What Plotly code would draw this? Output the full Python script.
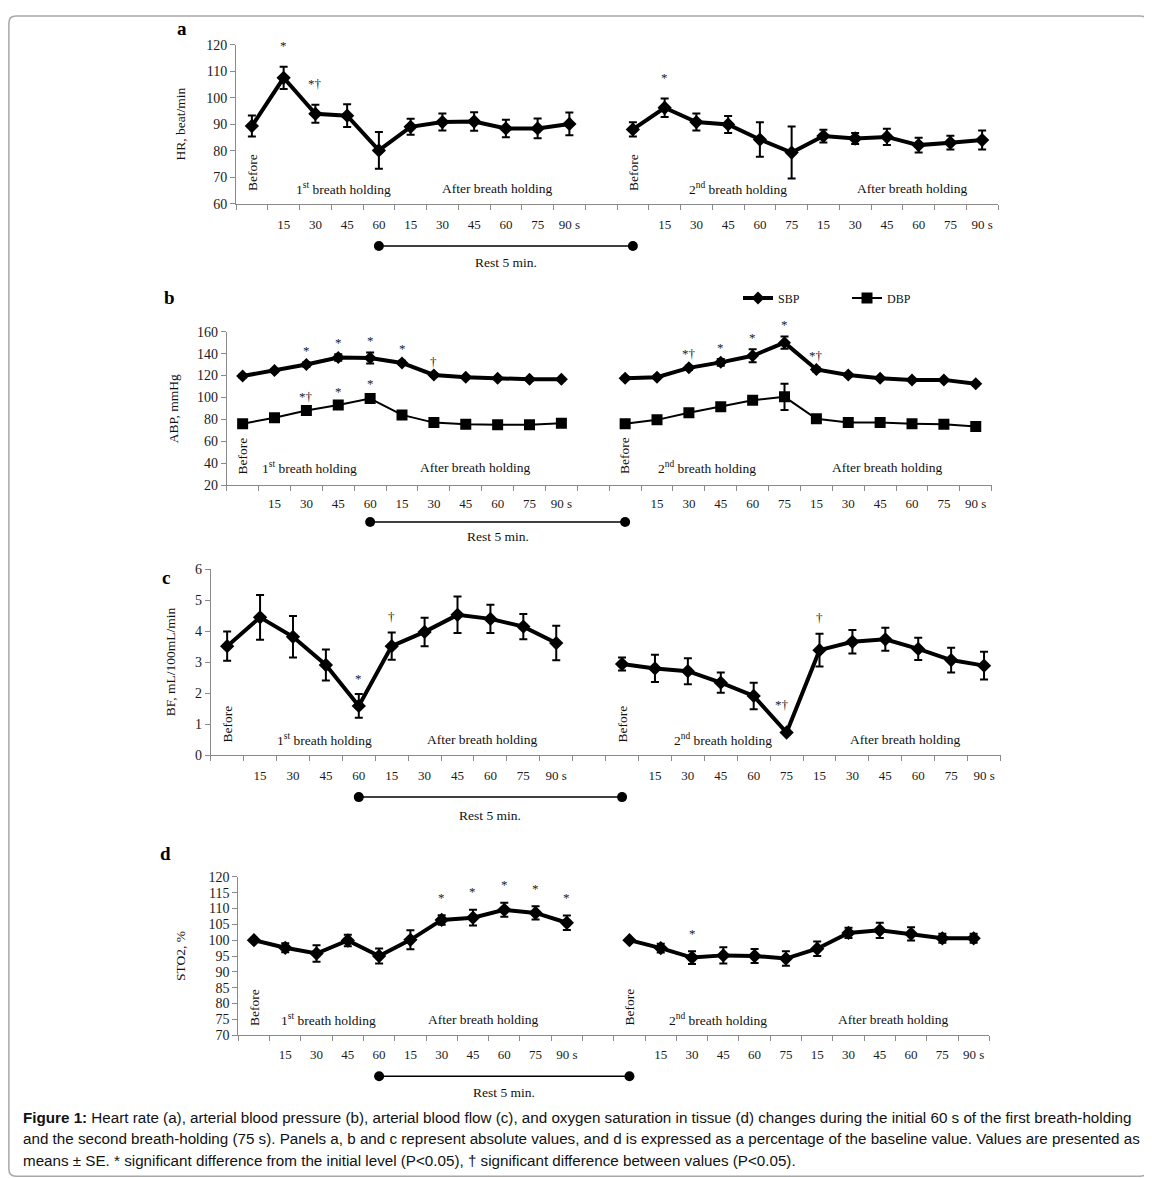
import plotly.graph_objects as go

# The page body keeps its default 8px margin; the photographed page is also
# slightly compressed vertically, so reference pixels are mapped accordingly.
W, H = 1144, 1178
OFF = 8
SY, BY = 0.987, 7.2
SERIF = "Liberation Serif, Times New Roman, serif"

# ---------------- data ----------------
first_labels = ["Before", "15", "30", "45", "60", "15", "30", "45", "60", "75", "90 s"]
second_labels = ["Before", "15", "30", "45", "60", "75", "15", "30", "45", "60", "75", "90 s"]

# a: heart rate
hr_first = [89.4, 107.6, 94.0, 93.3, 80.2, 89.1, 90.9, 91.1, 88.5, 88.5, 90.2]
hr_first_se = [4.0, 4.2, 3.4, 4.3, 6.9, 3.0, 3.2, 3.5, 3.3, 3.7, 4.3]
hr_second = [88.1, 96.3, 90.9, 90.0, 84.3, 79.4, 85.6, 84.7, 85.3, 82.2, 83.1, 84.1]
hr_second_se = [2.7, 3.5, 3.2, 3.2, 6.5, 9.8, 2.4, 2.1, 3.1, 2.8, 2.6, 3.6]
hr_first_sig = ["", "*", "*†", "", "", "", "", "", "", "", ""]
hr_second_sig = ["", "*", "", "", "", "", "", "", "", "", "", ""]

# b: arterial blood pressure
sbp_first = [119.5, 124.5, 130.0, 136.5, 136.0, 131.5, 120.5, 118.5, 117.5, 116.5, 116.5]
sbp_first_se = [1.5, 1.5, 2.0, 3.0, 5.0, 2.0, 1.5, 1.0, 1.0, 1.0, 1.0]
sbp_second = [117.5, 118.5, 127.0, 132.0, 138.0, 150.0, 125.5, 120.5, 117.5, 116.0, 116.0, 112.5]
sbp_second_se = [1.5, 1.5, 2.0, 3.0, 6.0, 5.5, 2.0, 1.5, 1.0, 1.0, 1.0, 1.5]
dbp_first = [76.0, 81.5, 88.0, 93.0, 99.0, 84.0, 77.0, 75.5, 75.0, 75.0, 76.5]
dbp_first_se = [1.0, 1.0, 1.5, 1.5, 3.0, 1.5, 1.0, 1.0, 1.0, 1.0, 1.0]
dbp_second = [76.0, 79.5, 86.0, 91.5, 97.5, 100.5, 80.5, 77.0, 77.0, 76.0, 75.5, 73.5]
dbp_second_se = [1.0, 1.0, 1.5, 1.5, 2.0, 12.0, 1.5, 1.0, 1.0, 1.0, 1.0, 1.0]
sbp_first_sig = ["", "", "*", "*", "*", "*", "†", "", "", "", ""]
sbp_second_sig = ["", "", "*†", "*", "*", "*", "*†", "", "", "", "", ""]
dbp_first_sig = ["", "", "*†", "*", "*", "", "", "", "", "", ""]
dbp_second_sig = ["", "", "", "", "", "", "", "", "", "", "", ""]

# c: blood flow
bf_first = [3.52, 4.45, 3.82, 2.91, 1.59, 3.52, 3.98, 4.53, 4.40, 4.15, 3.62]
bf_first_se = [0.47, 0.72, 0.67, 0.50, 0.38, 0.44, 0.46, 0.59, 0.46, 0.41, 0.56]
bf_second = [2.94, 2.80, 2.71, 2.34, 1.91, 0.73, 3.39, 3.66, 3.74, 3.43, 3.07, 2.89]
bf_second_se = [0.21, 0.44, 0.42, 0.33, 0.43, 0.05, 0.53, 0.38, 0.37, 0.36, 0.40, 0.45]
bf_first_sig = ["", "", "", "", "*", "†", "", "", "", "", ""]
bf_second_sig = ["", "", "", "", "", "*†", "†", "", "", "", "", ""]

# d: tissue oxygen saturation (% of baseline)
st_first = [100.0, 97.6, 95.8, 99.9, 95.0, 100.1, 106.4, 107.1, 109.6, 108.6, 105.5]
st_first_se = [0.0, 1.4, 2.6, 1.8, 2.4, 3.0, 1.5, 2.5, 2.2, 2.1, 2.3]
st_second = [100.0, 97.5, 94.5, 95.2, 95.0, 94.2, 97.3, 102.3, 103.1, 102.0, 100.6, 100.6]
st_second_se = [0.0, 1.4, 2.0, 2.6, 2.2, 2.3, 2.3, 1.6, 2.4, 2.1, 1.4, 1.4]
st_first_sig = ["", "", "", "", "", "", "*", "*", "*", "*", "*"]
st_second_sig = ["", "", "*", "", "", "", "", "", "", "", "", ""]

# ---------------- category positions ----------------
n1, n2 = len(first_labels), len(second_labels)
ncat = n1 + 1 + n2  # one empty category between the two runs
x_first = [i + 0.5 for i in range(n1)]
x_second = [n1 + 1 + i + 0.5 for i in range(n2)]
centers = x_first + [n1 + 0.5] + x_second
ticktext = [""] + first_labels[1:] + [""] + [""] + second_labels[1:]

fig = go.Figure()


def px_x(p):
    return (p - OFF) / W


def px_y(p):
    return 1 - ((p - BY) / SY - OFF) / H


# panel geometry in reference pixels: x0, x1, ytop, ybottom
panels = {
    1: dict(box=(236, 998, 45, 204), yr=(60, 120), dt=10, title="HR, beat/min", tx=180, letter="a", lxy=(182, 29),
            tick_y=221, rest_y=246, rest_t=263, before_y=0.2, lab_y=0.10,
            lab_x=(3.37, 8.22, 15.8, 21.3), sig_off=24),
    2: dict(box=(226.7, 991.7, 331.7, 485), yr=(20, 160), dt=20, title="ABP, mmHg", tx=173, letter="b", lxy=(169, 298),
            tick_y=500, rest_y=522, rest_t=536, before_y=0.19, lab_y=0.113,
            lab_x=(2.61, 7.78, 15.06, 20.73), sig_off=15),
    3: dict(box=(210.7, 1000.5, 569.3, 755), yr=(0, 6), dt=1, title="BF, mL/100mL/min", tx=170, letter="c", lxy=(166, 577),
            tick_y=772, rest_y=797, rest_t=815, before_y=0.165, lab_y=0.085,
            lab_x=(3.47, 8.24, 15.57, 21.1), sig_off=19),
    4: dict(box=(238.3, 989.3, 876.7, 1035), yr=(70, 120), dt=5, title="STO2, %", tx=180, letter="d", lxy=(165, 853),
            tick_y=1051.7, rest_y=1076, rest_t=1092, before_y=0.177, lab_y=0.10,
            lab_x=(2.87, 7.82, 15.33, 20.91), sig_off=21),
}

series = {
    1: [("HR", hr_first, hr_first_se, hr_second, hr_second_se, hr_first_sig, hr_second_sig, "diamond", 4, 11, False)],
    2: [("SBP", sbp_first, sbp_first_se, sbp_second, sbp_second_se, sbp_first_sig, sbp_second_sig, "diamond", 4, 10, True),
        ("DBP", dbp_first, dbp_first_se, dbp_second, dbp_second_se, dbp_first_sig, dbp_second_sig, "square", 2, 11, True)],
    3: [("BF", bf_first, bf_first_se, bf_second, bf_second_se, bf_first_sig, bf_second_sig, "diamond", 4, 11, False)],
    4: [("STO2", st_first, st_first_se, st_second, st_second_se, st_first_sig, st_second_sig, "diamond", 4, 11, False)],
}

# special offsets for crowded significance labels: (panel, run, index) -> (xshift, extra yshift)
sig_adjust = {(3, 2, 5): (-5, 10)}

annotations = []
shapes = []
layout_axes = {}

for k, p in panels.items():
    xa = "x" if k == 1 else f"x{k}"
    ya = "y" if k == 1 else f"y{k}"
    x0, x1, yt, yb = p["box"]
    layout_axes["xaxis" if k == 1 else f"xaxis{k}"] = dict(
        domain=[px_x(x0), px_x(x1)], range=[0, ncat], anchor=ya,
        showline=True, linecolor="#8a8a8a", linewidth=1, showgrid=False, zeroline=False,
        tickmode="array", tickvals=centers, ticktext=ticktext,
        ticks="outside", ticklen=int(p["tick_y"] - yb - 9), tickcolor="rgba(0,0,0,0)",
        tickfont=dict(family=SERIF, size=13, color="#1a1a1a"),
        minor=dict(tick0=0, dtick=1, ticks="outside", ticklen=5, tickcolor="#8a8a8a", showgrid=False),
    )
    layout_axes["yaxis" if k == 1 else f"yaxis{k}"] = dict(
        domain=[px_y(yb), px_y(yt)], range=list(p["yr"]), dtick=p["dt"], anchor=xa,
        showline=True, linecolor="#8a8a8a", linewidth=1, showgrid=False, zeroline=False,
        ticks="outside", ticklen=5, tickcolor="#8a8a8a",
        tickfont=dict(family=SERIF, size=14, color="#1a1a1a"),
    )

    for (name, f, fse, s, sse, fsig, ssig, sym, lw, ms, leg) in series[k]:
        xs = x_first + [None] + x_second
        ys = f + [None] + s
        es = fse + [0] + sse
        fig.add_trace(go.Scatter(
            x=xs, y=ys, mode="lines+markers", name=name, showlegend=leg,
            xaxis=xa, yaxis=ya, connectgaps=False,
            line=dict(color="black", width=lw),
            marker=dict(symbol=sym, size=ms, color="black"),
            error_y=dict(type="data", array=es, visible=True, color="black", thickness=2, width=4),
        ))
        for run, (xv, vals, ses, sigs) in enumerate([(x_first, f, fse, fsig), (x_second, s, sse, ssig)], start=1):
            for i, sg in enumerate(sigs):
                if not sg:
                    continue
                dx, dy = sig_adjust.get((k, run, i), (0, 0))
                annotations.append(dict(
                    x=xv[i], y=vals[i] + ses[i], xref=xa, yref=ya, text=sg, showarrow=False,
                    xanchor="center", yanchor="middle", xshift=dx, yshift=p["sig_off"] + dy - 3,
                    font=dict(family=SERIF, size=13, color="#222222"),
                ))

    # phase labels inside the plot
    ydom = ya + " domain"
    for xv in (x_first[0], x_second[0]):
        annotations.append(dict(x=xv, y=p["before_y"], xref=xa, yref=ydom, text="Before", textangle=-90,
                                showarrow=False, xanchor="center", yanchor="middle",
                                font=dict(family=SERIF, size=13.5, color="#111")))
    lx = p["lab_x"]
    for xv, txt in [(lx[0], "1<sup>st</sup> breath holding"), (lx[1], "After breath holding"),
                    (lx[2], "2<sup>nd</sup> breath holding"), (lx[3], "After breath holding")]:
        annotations.append(dict(x=xv, y=p["lab_y"], xref=xa, yref=ydom, text=txt, showarrow=False,
                                xanchor="center", yanchor="middle",
                                font=dict(family=SERIF, size=13.5, color="#111")))

    # axis title and panel letter
    annotations.append(dict(x=px_x(p["tx"]), y=px_y((yt + yb) / 2), xref="paper", yref="paper",
                            text=p["title"], textangle=-90, showarrow=False, xanchor="center", yanchor="middle",
                            font=dict(family=SERIF, size=13.5, color="#111")))
    annotations.append(dict(x=px_x(p["lxy"][0]), y=px_y(p["lxy"][1]), xref="paper", yref="paper",
                            text="<b>" + p["letter"] + "</b>", showarrow=False, xanchor="center", yanchor="middle",
                            font=dict(family=SERIF, size=19, color="black")))

    # rest period bar: from end of first holding (60 s) to start of second trial
    rx0, rx1 = x_first[4], x_second[0]
    ry = px_y(p["rest_y"])
    shapes.append(dict(type="line", xref=xa, yref="paper", x0=rx0, x1=rx1, y0=ry, y1=ry,
                       line=dict(color="black", width=1.5)))
    for cx in (rx0, rx1):
        shapes.append(dict(type="circle", xref=xa, yref="paper", xsizemode="pixel", ysizemode="pixel",
                           xanchor=cx, yanchor=ry, x0=-5, x1=5, y0=-5, y1=5,
                           fillcolor="black", line=dict(color="black", width=0)))
    annotations.append(dict(x=(rx0 + rx1) / 2, y=px_y(p["rest_t"]), xref=xa, yref="paper",
                            text="Rest 5 min.", showarrow=False, xanchor="center", yanchor="middle",
                            font=dict(family=SERIF, size=13.5, color="#111")))

# caption
cap_font = dict(family="Liberation Sans, Arial, sans-serif", size=15.2, color="#111")
caption = [
    "<b>Figure 1:</b> Heart rate (a), arterial blood pressure (b), arterial blood flow (c), and oxygen saturation in tissue (d) changes during the initial 60 s of the first breath-holding",
    "and the second breath-holding (75 s). Panels a, b and c represent absolute values, and d is expressed as a percentage of the baseline value. Values are presented as",
    "means ± SE. * significant difference from the initial level (P<0.05), † significant difference between values (P<0.05).",
]
for i, line in enumerate(caption):
    annotations.append(dict(x=px_x(21), y=px_y(1117 + 21.5 * i), xref="paper", yref="paper", text=line,
                            showarrow=False, xanchor="left", yanchor="middle", font=cap_font))

# rounded outer frame (reference 5..1147 x 3..1176, clamped inside the figure)
l, r, t, b, rad = 0.9, 1147 - OFF, 0.9, (1176 - BY) / SY - OFF, 7
fx = lambda v: v / W
fy = lambda v: 1 - v / H
path = (f"M {fx(l + rad)} {fy(t)} L {fx(r - rad)} {fy(t)} Q {fx(r)} {fy(t)} {fx(r)} {fy(t + rad)} "
        f"L {fx(r)} {fy(b - rad)} Q {fx(r)} {fy(b)} {fx(r - rad)} {fy(b)} "
        f"L {fx(l + rad)} {fy(b)} Q {fx(l)} {fy(b)} {fx(l)} {fy(b - rad)} "
        f"L {fx(l)} {fy(t + rad)} Q {fx(l)} {fy(t)} {fx(l + rad)} {fy(t)} Z")
shapes.append(dict(type="path", xref="paper", yref="paper", path=path, line=dict(color="#a8a8a8", width=1.5)))

fig.update_layout(
    width=W, height=H, margin=dict(l=0, r=0, t=0, b=0),
    paper_bgcolor="white", plot_bgcolor="white",
    font=dict(family=SERIF, color="#111"),
    showlegend=True,
    legend=dict(orientation="h", x=px_x(738), y=px_y(298), xanchor="left", yanchor="middle",
                font=dict(family=SERIF, size=12, color="#111"), bgcolor="rgba(0,0,0,0)",
                entrywidth=64, entrywidthmode="pixels", itemwidth=30, tracegroupgap=0),
    annotations=annotations, shapes=shapes,
    **layout_axes,
)

fig.write_html("out.html")
